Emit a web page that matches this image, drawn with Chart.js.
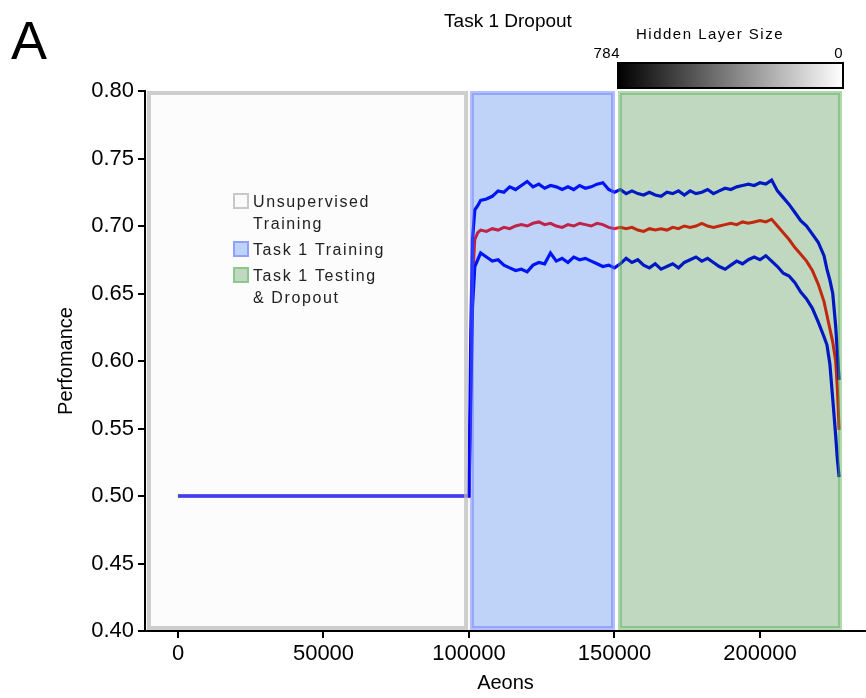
<!DOCTYPE html>
<html>
<head>
	<meta charset="UTF-8">
	<title>Task 1 Dropout</title>
	<script src="https://cdn.jsdelivr.net/npm/chart.js@4.4.0/dist/chart.umd.min.js"></script>
	<style>
		html, body { margin: 0; padding: 0; background: #fff; }
		#wrap { width: 866px; height: 698px; position: relative; }
	</style>
</head>
<body>
<div id="wrap"><canvas id="chart_dropout"></canvas></div>
<script>
	// aeons sampled along the run
	var aeons = [0, 100000, 100600, 101200, 102000, 103000, 104000,
		106000, 108000, 110000, 112000, 114000, 116000, 118000, 120000, 122000, 124000,
		126000, 128000, 130000, 132000, 134000, 136000, 138000, 140000, 142000, 144000,
		146000, 148000, 150000, 152000, 154000, 156000, 158000, 160000, 162000, 164000,
		166000, 168000, 170000, 172000, 174000, 176000, 178000, 180000, 182000, 184000,
		186000, 188000, 190000, 192000, 194000, 196000, 198000, 200000, 202000, 204000,
		206000, 208000, 210000, 212000, 214000, 216000, 218000, 220000, 222000,
		223000, 224000, 225000, 226000, 226600, 227200];

	var perfUpper = [0.500, 0.500, 0.620, 0.690, 0.712, 0.715, 0.719,
		0.720, 0.722, 0.726, 0.725, 0.729, 0.727, 0.730, 0.733, 0.729, 0.731,
		0.728, 0.730, 0.729, 0.727, 0.729, 0.727, 0.730, 0.728, 0.729, 0.731,
		0.732, 0.727, 0.725, 0.727, 0.724, 0.726, 0.724, 0.723, 0.725, 0.723,
		0.722, 0.725, 0.724, 0.726, 0.723, 0.726, 0.724, 0.725, 0.727, 0.724,
		0.726, 0.728, 0.727, 0.729, 0.730, 0.731, 0.730, 0.732, 0.731, 0.734,
		0.726, 0.721, 0.716, 0.710, 0.704, 0.700, 0.694, 0.688, 0.678,
		0.668, 0.660, 0.650, 0.626, 0.606, 0.586];

	var perfMean = [0.500, 0.500, 0.580, 0.660, 0.690, 0.695, 0.697,
		0.696, 0.698, 0.697, 0.699, 0.698, 0.700, 0.701, 0.700, 0.702, 0.703,
		0.701, 0.702, 0.700, 0.699, 0.701, 0.700, 0.702, 0.701, 0.700, 0.702,
		0.701, 0.699, 0.698, 0.699, 0.698, 0.699, 0.697, 0.696, 0.698, 0.697,
		0.698, 0.697, 0.699, 0.698, 0.700, 0.699, 0.700, 0.702, 0.700, 0.699,
		0.700, 0.701, 0.702, 0.701, 0.703, 0.702, 0.703, 0.704, 0.703, 0.705,
		0.700, 0.695, 0.690, 0.684, 0.679, 0.674, 0.667, 0.657, 0.644,
		0.634, 0.624, 0.614, 0.600, 0.579, 0.549];

	var perfLower = [0.500, 0.500, 0.570, 0.640, 0.670, 0.675, 0.680,
		0.677, 0.674, 0.675, 0.671, 0.669, 0.667, 0.668, 0.666, 0.671, 0.673,
		0.672, 0.680, 0.674, 0.676, 0.673, 0.677, 0.675, 0.676, 0.674, 0.672,
		0.670, 0.671, 0.669, 0.672, 0.676, 0.673, 0.675, 0.671, 0.669, 0.672,
		0.668, 0.670, 0.672, 0.669, 0.673, 0.675, 0.677, 0.674, 0.676, 0.673,
		0.670, 0.668, 0.671, 0.674, 0.672, 0.675, 0.677, 0.675, 0.678, 0.674,
		0.670, 0.665, 0.663, 0.658, 0.651, 0.646, 0.639, 0.629, 0.618,
		0.612, 0.598, 0.572, 0.545, 0.527, 0.514];

	var xTicks = [0, 50000, 100000, 150000, 200000];
	var yTicks = [0.40, 0.45, 0.50, 0.55, 0.60, 0.65, 0.70, 0.75, 0.80];

	// phases of the run (aeons)
	var phaseLabels = [['Unsupervised', 'Training'], ['Task 1 Training'], ['Task 1 Testing', '& Dropout']];
	var phaseStart = [-10000, 101000, 151900];
	var phaseEnd = [99000, 149500, 227500];

	var colorbarTitle = 'Hidden Layer Size';
	var colorbarMax = '784';
	var colorbarMin = '0';

	var phaseFill = ['rgba(245,245,245,0.25)', 'rgba(0,79,227,0.25)', 'rgba(3,99,3,0.25)'];
	var phaseStroke = ['rgba(190,190,190,0.75)', 'rgba(90,110,255,0.45)', 'rgba(80,170,80,0.45)'];
	var legendFill = ['#fafafa', '#bfd3f8', '#c0d8c0'];
	var legendStroke = ['#c8c8c8', '#8fa0ff', '#8cc88c'];

	function pts(ys) {
		return aeons.map(function (x, i) { return { x: x, y: ys[i] }; });
	}

	var fontNarrow = '"Liberation Sans Narrow", "Liberation Sans", Arial, sans-serif';
	var fontReg = '"Liberation Sans", Arial, sans-serif';

	var phasePlugin = {
		id: 'phases',
		afterDatasetsDraw: function (chart) {
			var ctx = chart.ctx, xs = chart.scales.x, area = chart.chartArea;
			ctx.save();
			for (var i = 0; i < phaseStart.length; i++) {
				var x0 = xs.getPixelForValue(phaseStart[i]);
				var x1 = xs.getPixelForValue(phaseEnd[i]);
				var y0 = area.top + 2, y1 = area.bottom - 3;
				ctx.fillStyle = phaseFill[i];
				ctx.fillRect(x0, y0, x1 - x0, y1 - y0);
				ctx.strokeStyle = phaseStroke[i];
				ctx.lineWidth = 4;
				ctx.strokeRect(x0, y0, x1 - x0, y1 - y0);
			}
			ctx.restore();
		},
		afterDraw: function (chart) {
			var ctx = chart.ctx;
			ctx.save();
			// panel letter
			ctx.fillStyle = '#000';
			ctx.font = '54px ' + fontReg;
			ctx.textBaseline = 'alphabetic';
			ctx.textAlign = 'left';
			ctx.fillText('A', 11, 59);

			// title
			ctx.font = '19px ' + fontNarrow;
			ctx.textAlign = 'center';
			ctx.fillText('Task 1 Dropout', 508, 27);

			// colour bar
			var cbL = 618, cbT = 63, cbW = 225, cbH = 25;
			var grad = ctx.createLinearGradient(cbL, 0, cbL + cbW, 0);
			grad.addColorStop(0, '#000');
			grad.addColorStop(1, '#fff');
			ctx.fillStyle = grad;
			ctx.fillRect(cbL, cbT, cbW, cbH);
			ctx.strokeStyle = '#000';
			ctx.lineWidth = 2;
			ctx.strokeRect(cbL, cbT, cbW, cbH);
			ctx.fillStyle = '#000';
			ctx.font = '15px ' + fontReg;
			ctx.letterSpacing = '1.5px';
			ctx.textAlign = 'center';
			ctx.fillText(colorbarTitle, 710, 39);
			ctx.letterSpacing = '0.5px';
			ctx.textAlign = 'right';
			ctx.fillText(colorbarMax, 620, 58);
			ctx.fillText(colorbarMin, 843, 58);

			// legend
			ctx.font = '16px ' + fontReg;
			ctx.letterSpacing = '1.6px';
			ctx.textAlign = 'left';
			var ly = 201;
			for (var i = 0; i < phaseLabels.length; i++) {
				ctx.fillStyle = legendFill[i];
				ctx.fillRect(234, ly - 7, 14, 14);
				ctx.strokeStyle = legendStroke[i];
				ctx.lineWidth = 2;
				ctx.strokeRect(234, ly - 7, 14, 14);
				ctx.fillStyle = '#222';
				for (var j = 0; j < phaseLabels[i].length; j++) {
					ctx.fillText(phaseLabels[i][j], 253, ly + 6);
					ly += 22;
				}
				ly += 4;
			}
			ctx.restore();
		}
	};

	var ctx = document.getElementById('chart_dropout').getContext('2d');
	var myChart = new Chart(ctx, {
		type: 'line',
		data: {
			datasets: [{
				label: 'Mean',
				data: pts(perfMean),
				borderColor: '#ff1414',
				borderWidth: 3,
				pointRadius: 0,
				tension: 0,
				order: 2
			}, {
				label: 'Upper',
				data: pts(perfUpper),
				borderColor: '#0000ff',
				borderWidth: 3.2,
				pointRadius: 0,
				tension: 0,
				order: 1
			}, {
				label: 'Lower',
				data: pts(perfLower),
				borderColor: '#0000ff',
				borderWidth: 3.2,
				pointRadius: 0,
				tension: 0,
				order: 1
			}]
		},
		options: {
			responsive: true,
			maintainAspectRatio: false,
			animation: false,
			layout: { padding: { top: 91, left: 54, right: 0, bottom: 0 } },
			plugins: {
				legend: { display: false },
				tooltip: { enabled: false }
			},
			scales: {
				x: {
					type: 'linear',
					min: -11340,
					max: 236430,
					afterBuildTicks: function (s) { s.ticks = xTicks.map(function (v) { return { value: v }; }); },
					afterFit: function (s) { s.height = 67; },
					grid: { drawOnChartArea: false, drawTicks: true, tickLength: 7, color: '#000', lineWidth: 2 },
					border: { color: '#000', width: 2 },
					ticks: { color: '#000', font: { family: fontNarrow, size: 22 }, padding: 3, maxRotation: 0,
						callback: function (v) { return String(v); } },
					title: { display: true, text: 'Aeons', color: '#000', font: { family: fontNarrow, size: 20 }, padding: { top: 0, bottom: 3 } }
				},
				y: {
					min: 0.40,
					max: 0.80,
					afterBuildTicks: function (s) { s.ticks = yTicks.map(function (v) { return { value: v }; }); },
					afterFit: function (s) { s.width = 91; },
					grid: { drawOnChartArea: false, drawTicks: true, tickLength: 7, color: '#000', lineWidth: 2 },
					border: { color: '#000', width: 2 },
					ticks: { color: '#000', font: { family: fontNarrow, size: 22 }, padding: 4, callback: function (v) { return v.toFixed(2); } },
					title: { display: true, text: 'Perfomance', color: '#000', font: { family: fontNarrow, size: 20 }, padding: { top: 0, bottom: 6 } }
				}
			}
		},
		plugins: [phasePlugin]
	});
</script>
</body>
</html>
